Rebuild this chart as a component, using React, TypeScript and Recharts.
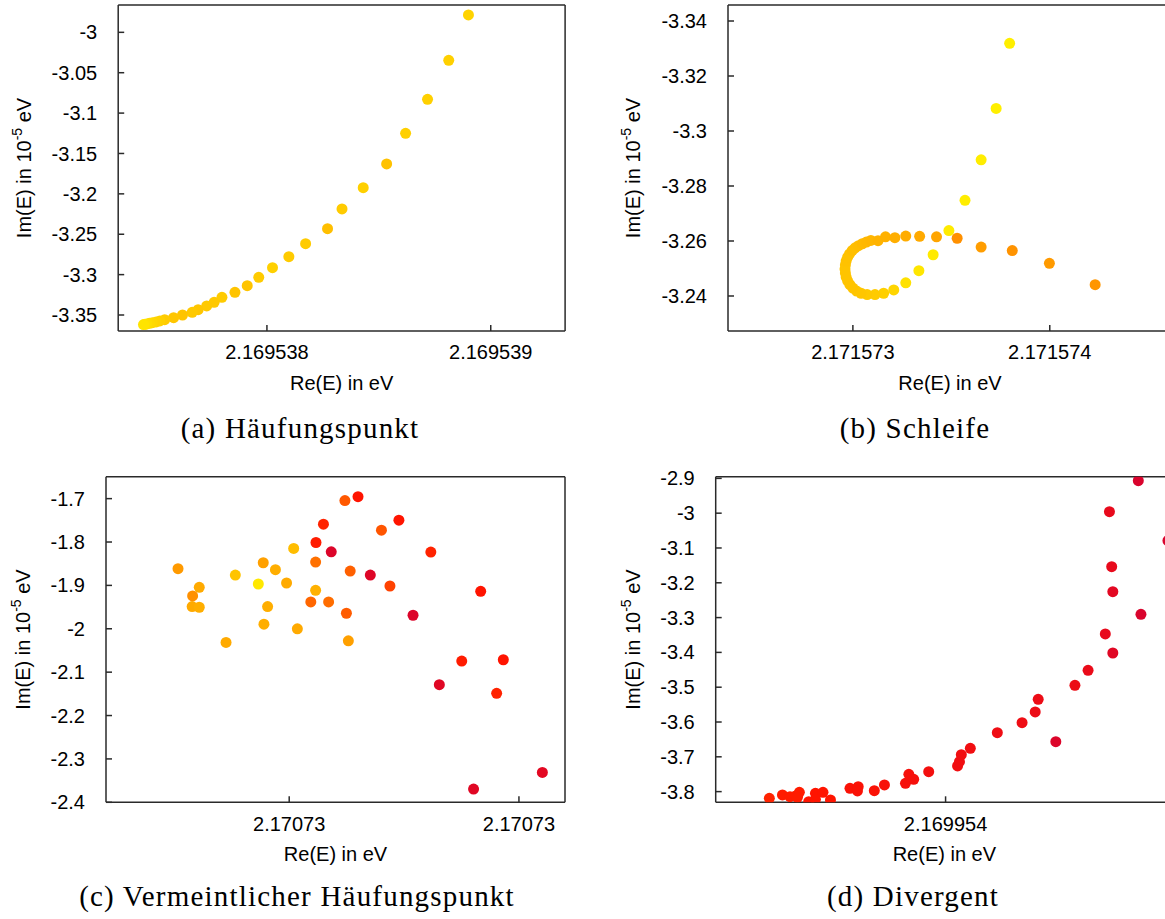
import React from 'react';
import { ScatterChart, Scatter, XAxis, YAxis } from 'recharts';

// ---- (a) Häufungspunkt ----
const reA = [
  2.1695389003, 2.1695388123, 2.1695387176, 2.1695386196, 2.1695385349, 2.1695384302,
  2.1695383355, 2.1695382708, 2.1695381728, 2.169538098, 2.1695380249, 2.1695379635,
  2.169537912, 2.1695378571, 2.169537799, 2.1695377641, 2.1695377309, 2.1695376927,
  2.1695376661, 2.1695376229, 2.1695375831, 2.1695375432, 2.1695375216, 2.169537505,
  2.1695374884, 2.1695374751, 2.1695374635, 2.1695374551, 2.1695374485,
];
const imA = [
  -2.9785, -3.0347, -3.083, -3.1251, -3.163, -3.1923, -3.2187, -3.2431, -3.2617, -3.2778,
  -3.2914, -3.3033, -3.3137, -3.3219, -3.3281, -3.3343, -3.3388, -3.3434, -3.3467, -3.35,
  -3.3533, -3.3558, -3.3574, -3.3586, -3.3595, -3.3603, -3.3611, -3.3615, -3.3619,
];
const colA = [
  0.18, 0.2, 0.2, 0.2, 0.26, 0.2, 0.22, 0.27, 0.22, 0.22, 0.2, 0.22, 0.25, 0.25, 0.22,
  0.23, 0.23, 0.24, 0.23, 0.25, 0.24, 0.22, 0.2, 0.18, 0.16, 0.14, 0.12, 0.1, 0.08,
];
const reTicksA = [2.169538, 2.169539];
const imTicksA = [-3.35, -3.3, -3.25, -3.2, -3.15, -3.1, -3.05, -3];

// ---- (b) Schleife ----
const reB = [
  2.1715737962, 2.1715737276, 2.1715736514, 2.1715735695, 2.1715734876, 2.1715734076,
  2.1715733352, 2.1715732686, 2.1715732076, 2.1715731562, 2.1715731124, 2.1715730724,
  2.1715730419, 2.171573019, 2.171573, 2.1715729848, 2.1715729733, 2.1715729657,
  2.1715729619, 2.17157296, 2.1715729619, 2.1715729657, 2.1715729733, 2.1715729829,
  2.1715729962, 2.1715730114, 2.1715730286, 2.1715730476, 2.1715730686, 2.1715730914,
  2.1715731276, 2.1715731657, 2.1715732133, 2.1715732686, 2.171573339, 2.1715734248,
  2.1715735295, 2.1715736514, 2.1715738095, 2.1715739981, 2.1715742305,
];
const imB = [
  -3.3319, -3.3082, -3.2895, -3.2748, -3.2638, -3.255, -3.2492, -3.2448, -3.2422, -3.241,
  -3.2405, -3.2405, -3.241, -3.2418, -3.2429, -3.2441, -3.2455, -3.2469, -3.2484, -3.2498,
  -3.2513, -3.2527, -3.2541, -3.2553, -3.2565, -3.2575, -3.2583, -3.259, -3.2596, -3.2602,
  -3.2601, -3.2615, -3.2612, -3.2618, -3.2617, -3.2615, -3.261, -3.2578, -3.2565, -3.2519,
  -3.2441,
];
const colB = [
  0.02, 0.02, 0.03, 0.03, 0.04, 0.05, 0.07, 0.1, 0.17, 0.2, 0.22, 0.23, 0.24, 0.24, 0.25,
  0.25, 0.25, 0.25, 0.25, 0.25, 0.25, 0.26, 0.26, 0.26, 0.27, 0.27, 0.28, 0.29, 0.3, 0.31,
  0.32, 0.33, 0.34, 0.35, 0.36, 0.38, 0.45, 0.41, 0.44, 0.42, 0.43,
];
const reTicksB = [2.171573, 2.171574];
const imTicksB = [-3.34, -3.32, -3.3, -3.28, -3.26, -3.24];

// ---- (c) Vermeintlicher Häufungspunkt ----
const reC = [
  2.1707299032, 2.1707299159, 2.1707299217, 2.1707299155, 2.1707299217, 2.170729945,
  2.1707299531, 2.1707299731, 2.1707299774, 2.170729988, 2.1707299812, 2.170729978,
  2.1707299977, 2.1707300039, 2.1707300071, 2.1707300188, 2.170730023, 2.170730023,
  2.1707300233, 2.1707300298, 2.1707300366, 2.1707300343, 2.1707300485, 2.1707300599,
  2.1707300531, 2.1707300498, 2.1707300515, 2.1707300706, 2.1707300803, 2.1707300877,
  2.1707300955, 2.1707301078, 2.1707301233, 2.1707301307, 2.1707301502, 2.1707301667,
  2.1707301864, 2.1707301806, 2.1707301605, 2.1707302204,
];
const imC = [
  -1.8616, -1.9244, -1.9045, -1.9489, -1.9504, -2.0316, -1.8762, -1.8968, -1.8478, -1.8639,
  -1.9489, -1.9895, -1.8945, -1.8149, -2.0002, -1.9382, -1.8463, -1.9114, -1.8011, -1.759,
  -1.8225, -1.9382, -1.7046, -1.6954, -1.867, -1.9642, -2.0278, -1.8762, -1.7728, -1.9014,
  -1.7498, -1.9688, -1.8233, -2.1289, -2.0745, -1.9137, -2.0714, -2.1488, -2.3694, -2.3311,
];
const colC = [
  0.42, 0.45, 0.36, 0.36, 0.34, 0.36, 0.25, 0.06, 0.4, 0.34, 0.34, 0.34, 0.36, 0.28, 0.36,
  0.58, 0.55, 0.33, 0.78, 0.76, 0.95, 0.56, 0.62, 0.8, 0.6, 0.61, 0.4, 0.94, 0.63, 0.68,
  0.8, 0.95, 0.76, 0.93, 0.78, 0.8, 0.8, 0.76, 0.93, 0.92,
];
const reTicksC = [2.17073, 2.1707302];
const imTicksC = [-2.4, -2.3, -2.2, -2.1, -2, -1.9, -1.8, -1.7];

// ---- (d) Divergent ----
const reD = [
  2.1699534986, 2.1699535359, 2.1699535573, 2.1699535733, 2.169953584, 2.1699535786,
  2.1699536106, 2.1699536298, 2.1699536298, 2.1699536512, 2.1699536725, 2.169953728,
  2.1699537514, 2.1699537493, 2.1699537973, 2.1699538261, 2.1699538859, 2.1699538955,
  2.1699539093, 2.169953952, 2.1699540341, 2.1699540395, 2.1699540448, 2.1699540704,
  2.1699541472, 2.1699542176, 2.169954255, 2.1699542635, 2.1699543136, 2.169954368,
  2.1699544054, 2.1699544544, 2.1699544758, 2.1699544758, 2.1699544726, 2.1699544662,
  2.1699545483, 2.1699545558, 2.1699546326,
];
const imD = [
  -3.8192, -3.8096, -3.8144, -3.8125, -3.802, -3.8163, -3.8288, -3.8048, -3.8221, -3.802,
  -3.824, -3.7905, -3.7857, -3.7981, -3.7972, -3.7809, -3.7761, -3.7503, -3.7646, -3.7426,
  -3.7263, -3.7139, -3.6938, -3.6756, -3.6306, -3.6018, -3.5712, -3.5348, -3.6564, -3.4946,
  -3.4515, -3.3471, -3.4017, -3.2255, -3.1537, -2.9957, -2.9067, -3.2907, -3.0791,
];
const colD = [
  0.76, 0.78, 0.78, 0.78, 0.78, 0.78, 0.8, 0.8, 0.8, 0.8, 0.8, 0.82, 0.82, 0.82, 0.82,
  0.83, 0.84, 0.84, 0.84, 0.85, 0.86, 0.86, 0.86, 0.86, 0.87, 0.87, 0.88, 0.88, 0.95, 0.88,
  0.89, 0.9, 0.93, 0.92, 0.9, 0.9, 0.96, 0.96, 0.96,
];
const reTicksD = [2.169954];
const imTicksD = [-3.8, -3.7, -3.6, -3.5, -3.4, -3.3, -3.2, -3.1, -3, -2.9];

type Pt = { x: number; y: number; c: number };
const zip = (re: number[], im: number[], col: number[]): Pt[] =>
  re.map((x, i) => ({ x, y: im[i], c: col[i] }));

// yellow -> orange -> red -> crimson, like the gnuplot palette
const PALETTE: number[][] = [
  [0, 255, 242, 0],
  [0.2, 255, 208, 0],
  [0.4, 255, 160, 0],
  [0.6, 255, 96, 0],
  [0.8, 255, 20, 0],
  [1, 208, 0, 56],
];
function paletteColor(t: number) {
  for (let i = 1; i < PALETTE.length; i++) {
    const a = PALETTE[i - 1];
    const b = PALETTE[i];
    if (t <= b[0]) {
      const f = (t - a[0]) / (b[0] - a[0]);
      const ch = [1, 2, 3].map((k) => Math.round(a[k] + (b[k] - a[k]) * f));
      return `rgb(${ch.join(',')})`;
    }
  }
  const l = PALETTE[PALETTE.length - 1];
  return `rgb(${l[1]},${l[2]},${l[3]})`;
}

const SANS = '"Liberation Sans", Arial, Helvetica, sans-serif';
const SERIF = '"Liberation Serif", "Times New Roman", serif';
const AXIS = '#2a2a2a';
const FS = 20;

const fmtRe = (v: number) => String(parseFloat(v.toPrecision(7)));
const fmtIm = (v: number) => String(parseFloat(v.toFixed(3)));

const Dot = (props: any) => {
  const c = props.payload?.c ?? props.c ?? 0;
  return <circle cx={props.cx} cy={props.cy} r={5.5} fill={paletteColor(c)} />;
};

const ImTitle = ({ px, py }: { px: number; py: number }) => (
  <text
    transform={`translate(${px},${py}) rotate(-90)`}
    textAnchor="middle"
    dy={7}
    fontFamily={SANS}
    fontSize={FS}
    fill="#000"
  >
    Im(E) in 10<tspan fontSize={14} dy={-9}>-5</tspan>
    <tspan dy={9}> eV</tspan>
  </text>
);

const ReTitle = ({ px, py }: { px: number; py: number }) => (
  <text x={px} y={py} textAnchor="middle" fontFamily={SANS} fontSize={FS} fill="#000">
    Re(E) in eV
  </text>
);

type PanelProps = {
  left: number;
  top: number;
  width: number;
  height: number;
  box: { l: number; r: number; t: number; b: number };
  data: Pt[];
  xDomain: [number, number];
  yDomain: [number, number];
  xTicks: number[];
  yTicks: number[];
  reversed?: boolean;
  yTitleX: number;
};

const tickText = { fontSize: FS, fontFamily: SANS, fill: '#000' };

function Panel({ left, top, width, height, box, data, xDomain, yDomain, xTicks, yTicks, reversed, yTitleX }: PanelProps) {
  const common = { stroke: AXIS, strokeWidth: 1.5, allowDataOverflow: true, interval: 0 as const, tickSize: -6 };
  return (
    <div style={{ position: 'absolute', left, top }}>
      <ScatterChart
        width={width}
        height={height}
        margin={{ top: box.t - 1, right: width - box.r - 1, bottom: 0, left: 0 }}
      >
        <XAxis
          {...common}
          xAxisId="bottom"
          type="number"
          dataKey="x"
          domain={xDomain}
          ticks={xTicks}
          height={height - box.b}
          tickMargin={20}
          tick={tickText}
          tickFormatter={fmtRe}
          label={<ReTitle px={(box.l + box.r) / 2} py={box.b + 59} />}
        />
        <XAxis {...common} xAxisId="top" orientation="top" type="number" dataKey="x" domain={xDomain} ticks={xTicks} height={1} tick={false} />
        <YAxis
          {...common}
          yAxisId="left"
          type="number"
          dataKey="y"
          domain={yDomain}
          ticks={yTicks}
          reversed={reversed}
          width={box.l}
          tickMargin={27}
          tick={tickText}
          tickFormatter={fmtIm}
          label={<ImTitle px={yTitleX} py={(box.t + box.b) / 2} />}
        />
        <YAxis {...common} yAxisId="right" orientation="right" type="number" dataKey="y" domain={yDomain} ticks={yTicks} reversed={reversed} width={1} tick={false} />
        <Scatter data={data} xAxisId="bottom" yAxisId="left" shape={Dot} isAnimationActive={false} />
      </ScatterChart>
    </div>
  );
}

const captions = [
  { text: '(a) Häufungspunkt', x: 300, y: 438 },
  { text: '(b) Schleife', x: 915, y: 438 },
  { text: '(c) Vermeintlicher Häufungspunkt', x: 297, y: 906 },
  { text: '(d) Divergent', x: 913, y: 906 },
];

export default function App() {
  return (
    <div style={{ position: 'absolute', left: 0, top: 0, width: 1165, height: 919, overflow: 'hidden', background: '#fff' }}>
      <Panel
        left={0} top={0} width={600} height={420}
        box={{ l: 118.2, r: 565.1, t: 5, b: 331 }}
        data={zip(reA, imA, colA)}
        xDomain={[2.1695373355, 2.1695393322]}
        yDomain={[-3.36981, -2.96616]}
        xTicks={reTicksA} yTicks={imTicksA} yTitleX={24}
      />
      <Panel
        left={580} top={0} width={620} height={420}
        box={{ l: 148, r: 592, t: 5, b: 331 }}
        data={zip(reB, imB, colB)}
        xDomain={[2.1715723657, 2.1715746208]}
        yDomain={[-3.34582, -3.22727]}
        reversed
        xTicks={reTicksB} yTicks={imTicksB} yTitleX={52.5}
      />
      <Panel
        left={0} top={460} width={600} height={440}
        box={{ l: 106, r: 565, t: 16.7, b: 342.3 }}
        data={zip(reC, imC, colC)}
        xDomain={[2.1707298405, 2.1707302401]}
        yDomain={[-2.4, -1.64945]}
        xTicks={reTicksC} yTicks={imTicksC} yTitleX={23}
      />
      <Panel
        left={580} top={460} width={620} height={440}
        box={{ l: 135.7, r: 593, t: 16.7, b: 342.3 }}
        data={zip(reD, imD, colD)}
        xDomain={[2.169953346, 2.169954647]}
        yDomain={[-3.83069, -2.89521]}
        xTicks={reTicksD} yTicks={imTicksD} yTitleX={52.5}
      />
      <svg width={1165} height={919} style={{ position: 'absolute', left: 0, top: 0, pointerEvents: 'none' }}>
        {captions.map((c) => (
          <text key={c.text} x={c.x} y={c.y} textAnchor="middle" fontFamily={SERIF} fontSize={29} letterSpacing={1.2} fill="#000">
            {c.text}
          </text>
        ))}
      </svg>
    </div>
  );
}
